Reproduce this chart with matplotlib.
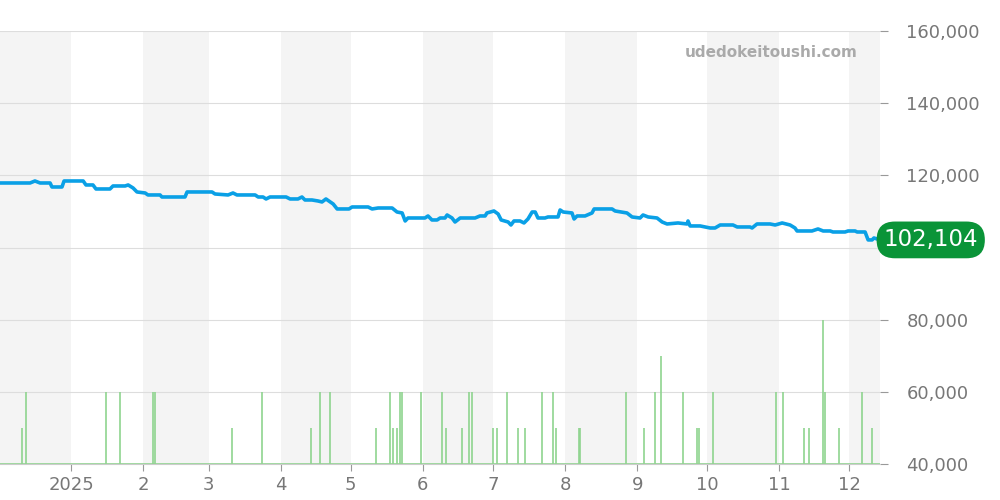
import matplotlib
matplotlib.use("Agg")
import matplotlib.pyplot as plt

# days counted from 2025-01-01
line_days = [-30.5, -17.6, -15.5, -13.3, -9, -8.2, -3.9, -3, 5.2, 6.4, 9.4, 10.7, 16.7, 18, 23.2, 24.5,
             26.6, 28.3, 31.8, 33, 38.2, 39, 48.9, 49.8, 60.5, 61.8, 67.4, 69.5, 71.2, 79, 80.3, 82.4,
             83.7, 85.4, 92.3, 94, 97.4, 99.1, 100.4, 103.4, 106, 107.7, 109.4, 112.5, 114.2, 119.3,
             120.6, 127.5, 129.2, 131.8, 137.8, 139.9, 142.1, 143.4, 144.6, 151.9, 153.2, 154.9, 157.1,
             158.4, 160.5, 161.4, 163.5, 164.8, 167, 173.4, 175.5, 177.7, 178.5, 181.5, 183.3, 184.6,
             187.6, 188.8, 190.1, 192.7, 194.4, 196.1, 197.9, 199.2, 200.4, 203.4, 204.7, 209, 209.9,
             211.2, 215, 215.9, 217.2, 220.6, 223.6, 224.5, 232.2, 233.5, 238.6, 240.8, 244.2, 245.5,
             247.7, 251.5, 253.7, 255.8, 260.5, 264.4, 264.8, 265.7, 270, 272.1, 274.3, 276.4, 278.6,
             284.1, 285.9, 291.4, 292.3, 294.4, 300, 302.2, 305.2, 308.6, 310.7, 311.6, 318, 320.6,
             322.8, 325.8, 327, 332.2, 333.5, 336.5, 337.4, 340.8, 342.1, 343.8, 344.6, 347.2]
line_price = [117880, 117880, 118435, 117880, 117880, 116770, 116770, 118435, 118435, 117330, 117330,
              116220, 116220, 117050, 117050, 117330, 116500, 115390, 115110, 114560, 114560, 114000,
              114000, 115390, 115390, 114830, 114560, 115110, 114560, 114560, 114000, 114000, 113450,
              114000, 114000, 113450, 113450, 114000, 113170, 113170, 112890, 112620, 113450, 112060,
              110680, 110680, 111230, 111230, 110680, 110950, 110950, 109840, 109570, 107350, 108180,
              108180, 108740, 107630, 107630, 108180, 108180, 109010, 108180, 107070, 108180, 108180,
              108740, 108740, 109570, 110120, 109290, 107630, 107070, 106240, 107350, 107350, 106800,
              107900, 109840, 109840, 108180, 108180, 108460, 108460, 110400, 109840, 109570, 107900,
              108740, 108740, 109570, 110680, 110680, 110120, 109570, 108460, 108180, 109010, 108460,
              108180, 107070, 106520, 106800, 106520, 107350, 105970, 105970, 105690, 105410, 105410,
              106240, 106240, 105690, 105690, 105410, 106520, 106520, 106240, 106800, 106240, 105410,
              104580, 104580, 105140, 104580, 104580, 104300, 104300, 104580, 104580, 104300, 104300,
              102100, 102100, 102640, 102104]

vol_days = [-21, -19.3, 15, 21, 35.2, 36, 69, 82, 103, 107, 111, 131, 137, 138, 140, 141, 142, 150, 159,
            161, 168, 171, 172, 181, 183, 187, 192, 195, 202, 207, 208, 218, 218.5, 238, 246, 250.5, 253,
            262.7, 268.7, 269.5, 275.5, 302.6, 305.6, 314.6, 316.7, 322.7, 323.6, 329.6, 339.5, 343.8]
vol_level = [50000, 60000, 60000, 60000, 60000, 60000, 50000, 60000, 50000, 60000, 60000, 50000, 60000,
             50000, 50000, 60000, 60000, 60000, 60000, 50000, 50000, 60000, 60000, 50000, 50000, 60000,
             50000, 50000, 60000, 60000, 50000, 50000, 50000, 60000, 50000, 60000, 70000, 60000, 50000,
             50000, 60000, 60000, 60000, 50000, 50000, 80000, 60000, 50000, 60000, 50000]

month_starts = [0, 31, 59, 90, 120, 151, 181, 212, 243, 273, 304, 334]
month_labels = ["2025", "2", "3", "4", "5", "6", "7", "8", "9", "10", "11", "12"]
shaded = [(-31, 0), (31, 59), (90, 120), (151, 181), (212, 243), (273, 304), (334, 365)]
y_ticks = [40000, 60000, 80000, 120000, 140000, 160000]  # 100,000 sits under the price badge

fig = plt.figure(figsize=(10, 5), dpi=100)
ax = fig.add_axes([0, 0.072, 0.88, 0.866])

for a, b in shaded:
    ax.axvspan(a, b, color="#f4f4f4", zorder=0, lw=0)

ax.vlines(vol_days, 40000, vol_level, color="#8fd48f", lw=1.2, zorder=2)
ax.axhline(40000, color="#8fd48f", lw=1.2, zorder=2)
ax.plot(line_days, line_price, color="#0aa0e6", lw=2.6, zorder=3)

ax.set_xlim(-30.5, 347.2)
ax.set_ylim(40000, 160000)
ax.set_yticks(range(40000, 160001, 20000))
ax.set_yticklabels([f"{v:,}" if v in y_ticks else "" for v in range(40000, 160001, 20000)])
ax.yaxis.tick_right()
ax.grid(axis="y", color="#dddddd", lw=0.8, zorder=1)
ax.set_xticks(month_starts)
ax.set_xticklabels(month_labels)
ax.tick_params(axis="y", colors="#777777", labelsize=13, length=6, pad=13, color="#999999")
ax.tick_params(axis="x", colors="#777777", labelsize=13, length=5, color="#999999")
for s in ax.spines.values():
    s.set_visible(False)
ax.spines["bottom"].set_visible(True)
ax.spines["bottom"].set_color("#cccccc")

ax.text(0.975, 0.95, "udedokeitoushi.com", transform=ax.transAxes, ha="right", va="center",
        color="#aaaaaa", fontsize=11, fontweight="bold")
ax.annotate(f"{line_price[-1]:,}", xy=(1.0, line_price[-1]), xycoords=("axes fraction", "data"),
            xytext=(2.5, 0), textcoords="offset points", ha="left", va="center", color="white",
            fontsize=16.5, zorder=10,
            bbox=dict(boxstyle="round,pad=0.3,rounding_size=0.8", fc="#0a9438", ec="none"),
            annotation_clip=False)

fig.savefig("out.png")
